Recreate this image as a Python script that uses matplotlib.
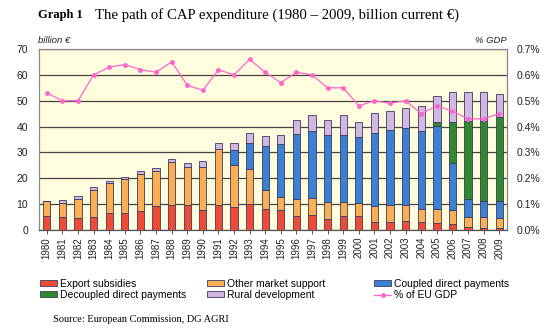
import matplotlib.pyplot as plt
import numpy as np
from matplotlib.ticker import FuncFormatter

# Data: CAP expenditure (billion current EUR) and share of EU GDP
years = list(range(1980, 2010))
export_subsidies = [5.5, 5.0, 4.8, 5.2, 6.7, 6.7, 7.3, 9.4, 9.8, 9.5,
                    7.6, 9.8, 9.1, 9.9, 8.0, 7.6, 5.4, 5.7, 4.4, 5.4,
                    5.3, 3.2, 3.2, 3.5, 3.2, 2.8, 2.3, 1.3, 0.8, 0.6]
other_market = [5.6, 5.6, 7.3, 10.1, 11.3, 12.9, 14.2, 13.3, 16.4, 14.7,
                16.9, 21.4, 16.0, 13.6, 7.5, 5.3, 6.6, 6.8, 6.6, 5.3,
                5.1, 6.2, 6.3, 6.3, 4.8, 5.2, 5.4, 3.9, 4.4, 3.9]
coupled = [0, 0, 0, 0, 0, 0, 0, 0, 0, 0,
           0, 0, 5.8, 10.3, 17.1, 20.5, 25.0, 25.9, 25.7, 25.9,
           25.7, 28.0, 29.2, 29.6, 30.1, 32.1, 18.1, 6.7, 6.0, 6.6]
decoupled = [0, 0, 0, 0, 0, 0, 0, 0, 0, 0,
             0, 0, 0, 0, 0, 0, 0, 0, 0, 0,
             0, 0, 0, 0, 0, 1.7, 15.8, 30.2, 31.1, 32.5]
rural_dev = [0.1, 1.1, 1.0, 1.5, 0.8, 0.9, 1.2, 1.3, 1.4, 1.6,
             2.2, 2.3, 2.9, 3.7, 3.9, 3.3, 5.7, 5.9, 6.0, 8.0,
             5.5, 7.8, 7.3, 7.9, 9.7, 10.0, 11.6, 11.1, 10.9, 9.0]
pct_gdp = [0.53, 0.50, 0.50, 0.60, 0.63, 0.64, 0.62, 0.61, 0.65, 0.56,
           0.54, 0.62, 0.60, 0.66, 0.61, 0.57, 0.61, 0.60, 0.55, 0.55,
           0.48, 0.50, 0.49, 0.50, 0.45, 0.48, 0.46, 0.43, 0.43, 0.45]

# Styling
BG_PLOT = "#FFFDDD"
EDGE = "#3A3A66"
C_EXPORT = "#F04A32"
C_OTHER = "#FBAE52"
C_COUPLED = "#3C80D2"
C_DECOUPLED = "#2E8A2A"
C_RURAL = "#D2B8E0"
C_LINE = "#FF66CC"
SANS = "Liberation Sans"
SERIF = "Liberation Serif"

fig = plt.figure(figsize=(5.5, 3.31), dpi=100, facecolor="white")
ax = fig.add_axes([0.0709, 0.305, 0.851, 0.547])
ax.set_facecolor(BG_PLOT)

x = np.arange(len(years))
w = 0.47
stacks = [
    (export_subsidies, C_EXPORT, "Export subsidies"),
    (other_market, C_OTHER, "Other market support"),
    (coupled, C_COUPLED, "Coupled direct payments"),
    (decoupled, C_DECOUPLED, "Decoupled direct payments"),
    (rural_dev, C_RURAL, "Rural development"),
]
bottom = np.zeros(len(years))
handles = []
for vals, col, lab in stacks:
    vals = np.array(vals)
    b = ax.bar(x, vals, w, bottom=bottom, color=col, edgecolor=EDGE,
               linewidth=0.6, label=lab, zorder=3)
    handles.append(b)
    bottom += vals

ax.set_xlim(-0.5, len(years) - 0.5)
ax.set_ylim(0, 70)
ax.set_yticks(range(0, 71, 10))
ax.grid(axis="y", color="#444444", linewidth=0.9, zorder=1)
ax.set_axisbelow(True)
ax.set_xticks(x)
ax.set_xticklabels([str(y) for y in years], rotation=90, fontsize=7,
                   family=SANS, color="#222222")
ax.tick_params(axis="x", length=3, width=0.7, color="#555555", pad=2)
ax.tick_params(axis="y", length=0, labelsize=7.5, pad=8, labelcolor="#222222")
for lbl in ax.get_yticklabels():
    lbl.set_family(SANS)
for s in ax.spines.values():
    s.set_color("#888888")
    s.set_linewidth(0.9)
ax.spines["bottom"].set_color("#555555")

ax2 = ax.twinx()
ln, = ax2.plot(x, pct_gdp, color=C_LINE, linewidth=0.9, marker="o",
               markersize=2.5, label="% of EU GDP", zorder=4)
ax2.set_ylim(0, 0.7)
ax2.set_yticks(np.arange(0, 0.71, 0.1))
ax2.yaxis.set_major_formatter(FuncFormatter(lambda v, p: f"{v:.1f}%"))
ax2.tick_params(axis="y", length=0, labelsize=7.5, pad=7, labelcolor="#222222")
for lbl in ax2.get_yticklabels():
    lbl.set_family(SANS)
for s in ax2.spines.values():
    s.set_visible(False)

# Axis unit labels
fig.text(0.069, 0.877, "billion €", fontsize=6.8, style="italic",
         family=SANS, color="#222222", ha="left", va="center")
fig.text(0.921, 0.877, "% GDP", fontsize=6.8, style="italic",
         family=SANS, color="#222222", ha="right", va="center")

# Title
fig.text(0.069, 0.955, "Graph 1", fontsize=9, fontweight="bold",
         family=SERIF, ha="left", va="center")
fig.text(0.173, 0.955, "The path of CAP expenditure (1980 – 2009, billion current €)",
         fontsize=10.6, family=SERIF, ha="left", va="center")

# Legend: three columns placed like the original
columns = [(handles[0], handles[3]), (handles[1], handles[4]), (handles[2], ln)]
col_x = [0.0727, 0.376, 0.68]
for hs, cx in zip(columns, col_x):
    leg = fig.legend(list(hs), [h.get_label() for h in hs], loc="upper left",
                     bbox_to_anchor=(cx, 0.158), frameon=False,
                     prop={"family": SANS, "size": 7.5}, handlelength=1.65,
                     handleheight=0.5, handletextpad=0.25,
                     labelspacing=0.12, borderpad=0, borderaxespad=0)

# Source
fig.text(0.097, 0.035, "Source: European Commission, DG AGRI", fontsize=7.5,
         family=SERIF, ha="left", va="center")

plt.savefig("out.png", dpi=100, facecolor="white")
